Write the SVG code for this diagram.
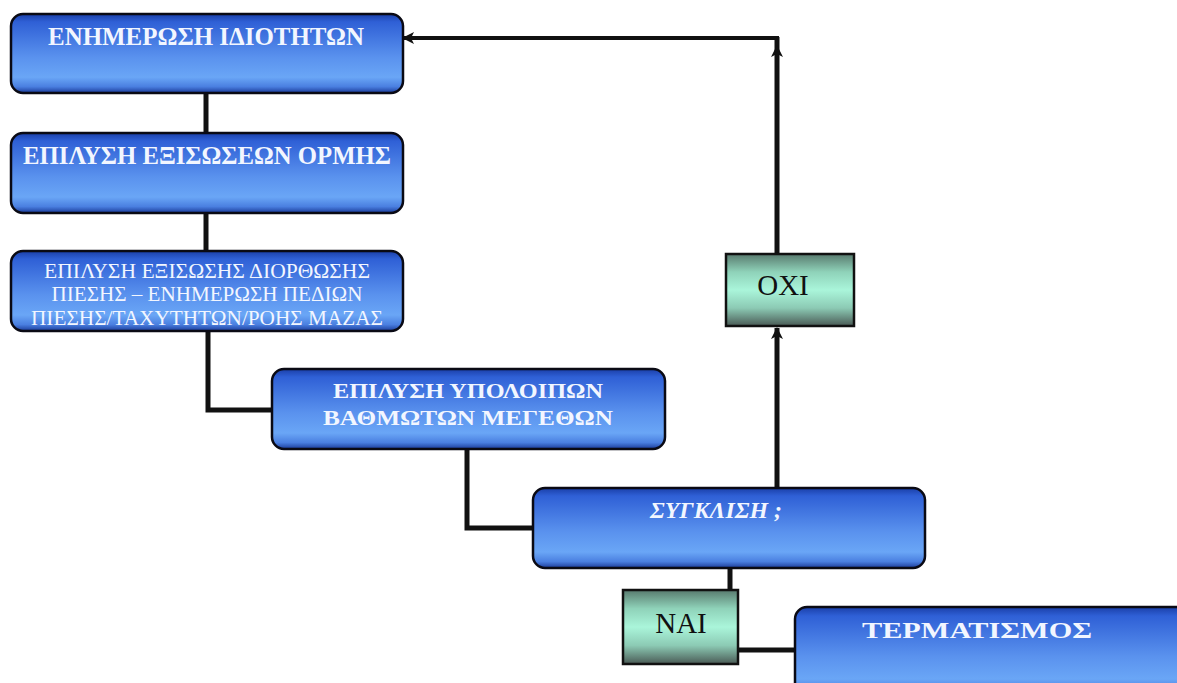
<svg xmlns="http://www.w3.org/2000/svg" width="1177" height="683" viewBox="0 0 1177 683">
<defs>
<linearGradient id="blue" x1="0" y1="0" x2="0" y2="1">
<stop offset="0" stop-color="#1a3fa8"/>
<stop offset="0.1" stop-color="#2f60d6"/>
<stop offset="0.55" stop-color="#5a92ee"/>
<stop offset="0.8" stop-color="#6aa6f6"/>
<stop offset="0.92" stop-color="#4a7fe0"/>
<stop offset="1" stop-color="#1a3a98"/>
</linearGradient>
<linearGradient id="green" x1="0" y1="0" x2="0" y2="1">
<stop offset="0" stop-color="#587a6e"/>
<stop offset="0.25" stop-color="#8fd2b9"/>
<stop offset="0.5" stop-color="#aaf5da"/>
<stop offset="0.75" stop-color="#8ccab4"/>
<stop offset="1" stop-color="#4a5a55"/>
</linearGradient>
<marker id="arr" markerUnits="userSpaceOnUse" markerWidth="14" markerHeight="12" refX="11" refY="6" orient="auto">
<path d="M0,0 L12,6 L0,12 L3,6 Z" fill="#111"/>
</marker>
<style>
.bx{fill:url(#blue);stroke:#0a0a14;stroke-width:2.5}
.gx{fill:url(#green);stroke:#111;stroke-width:2.5}
.t{font-family:"Liberation Serif","Times New Roman",serif;fill:#f2f6ff;text-anchor:middle}
.b{font-weight:bold}
.k{font-family:"Liberation Serif","Times New Roman",serif;fill:#111;text-anchor:middle;font-size:29px}
.c{fill:none;stroke:#111;stroke-width:5}
.c2{fill:none;stroke:#111;stroke-width:4}
</style>
</defs>
<rect width="1177" height="683" fill="#ffffff"/>
<g id="connectors">
<path class="c" d="M206,93 V133"/>
<path class="c" d="M206,213 V251"/>
<path class="c" d="M208,331 V410 H272"/>
<path class="c" d="M467,449 V528 H533"/>
<path class="c" d="M777,488 V328" marker-end="url(#arr)"/>
<path class="c" d="M777,254 L777,46 L777,37" marker-mid="url(#arr)"/>
<path class="c2" d="M779,38 H403" marker-end="url(#arr)"/>
<path class="c" d="M730,568 V590"/>
<path class="c" d="M738,650 H795"/>
</g>
<g id="n1">
<rect class="bx" x="11" y="14" width="392" height="79" rx="12"/>
<text class="t b" x="206" y="45" font-size="25" textLength="316" lengthAdjust="spacingAndGlyphs">ΕΝΗΜΕΡΩΣΗ ΙΔΙΟΤΗΤΩΝ</text>
</g>
<g id="n2">
<rect class="bx" x="11" y="133" width="392" height="80" rx="12"/>
<text class="t b" x="207" y="164" font-size="25" textLength="368" lengthAdjust="spacingAndGlyphs">ΕΠΙΛΥΣΗ ΕΞΙΣΩΣΕΩΝ ΟΡΜΗΣ</text>
</g>
<g id="n3">
<rect class="bx" x="11" y="251" width="392" height="80" rx="12"/>
<text class="t" x="207" y="278" font-size="21" textLength="326" lengthAdjust="spacingAndGlyphs">ΕΠΙΛΥΣΗ ΕΞΙΣΩΣΗΣ ΔΙΟΡΘΩΣΗΣ</text>
<text class="t" x="207" y="301" font-size="21" textLength="311" lengthAdjust="spacingAndGlyphs">ΠΙΕΣΗΣ – ΕΝΗΜΕΡΩΣΗ ΠΕΔΙΩΝ</text>
<text class="t" x="207" y="325" font-size="21" textLength="352" lengthAdjust="spacingAndGlyphs">ΠΙΕΣΗΣ/ΤΑΧΥΤΗΤΩΝ/ΡΟΗΣ ΜΑΖΑΣ</text>
</g>
<g id="n4">
<rect class="bx" x="272" y="369" width="393" height="80" rx="12"/>
<text class="t b" x="468" y="398" font-size="22" textLength="270" lengthAdjust="spacingAndGlyphs">ΕΠΙΛΥΣΗ ΥΠΟΛΟΙΠΩΝ</text>
<text class="t b" x="468" y="425" font-size="22" textLength="290" lengthAdjust="spacingAndGlyphs">ΒΑΘΜΩΤΩΝ ΜΕΓΕΘΩΝ</text>
</g>
<g id="n5">
<rect class="bx" x="533" y="488" width="392" height="80" rx="12"/>
<text class="t b" x="716" y="518" font-size="23" font-style="italic" textLength="132" lengthAdjust="spacingAndGlyphs">ΣΥΓΚΛΙΣΗ ;</text>
</g>
<g id="oxi">
<rect class="gx" x="726" y="254" width="128" height="72"/>
<text class="k" x="783" y="295">ΟΧΙ</text>
</g>
<g id="nai">
<rect class="gx" x="623" y="590" width="115" height="74"/>
<text class="k" x="681" y="633">ΝΑΙ</text>
</g>
<g id="term">
<rect class="bx" x="795" y="607" width="395" height="90" rx="12"/>
<text class="t b" x="977" y="638" font-size="23" textLength="230" lengthAdjust="spacingAndGlyphs">ΤΕΡΜΑΤΙΣΜΟΣ</text>
</g>
</svg>
